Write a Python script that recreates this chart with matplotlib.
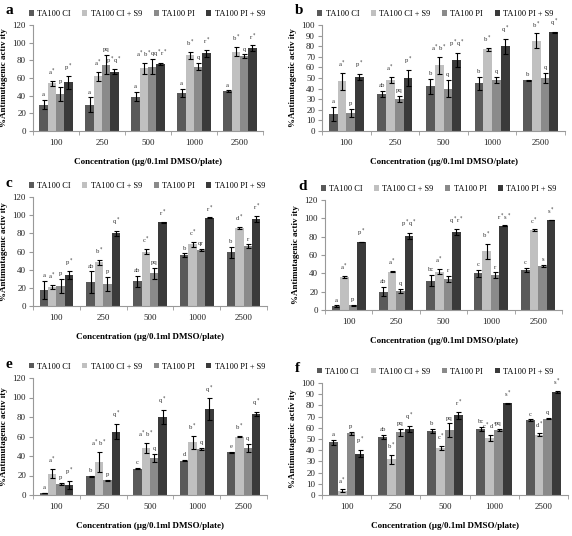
import numpy as np
import matplotlib.pyplot as plt

plt.rcParams['font.family'] = ['Liberation Serif', 'DejaVu Serif']

conc = ['100', '250', '500', '1000', '2500']
series = ['TA100 CI', 'TA100 CI + S9', 'TA100 PI', 'TA100 PI + S9']
colors = ['#5a5a5a', '#c0c0c0', '#8a8a8a', '#3a3a3a']

# panel a
a_vals = [[30, 30, 39, 43, 45], [54, 62, 71, 86, 90], [42, 75, 73, 73, 85], [55, 67, 76, 88, 94]]
a_errs = [[5, 8, 5, 5, 1], [3, 5, 6, 4, 5], [8, 11, 9, 4, 2], [7, 3, 1, 4, 3]]
a_labs = [['a', 'a', 'a', 'a', 'a'], ['a*', 'a*', 'a*b*', 'b*', 'b*'],
          ['p', 'pq', 'q', 'q', 'q'], ['p*', 'p*q*', 'q*r*', 'r*', 'r*']]
# panel b
b_vals = [[16, 35, 42, 45, 48], [47, 48, 62, 77, 85], [17, 30, 40, 48, 50], [51, 50, 67, 80, 93]]
b_errs = [[7, 3, 7, 6, 0.5], [8, 3, 8, 1.5, 7], [4, 3, 8, 3, 5], [3, 8, 7, 7, 0.5]]
b_labs = [['a', 'ab', 'b', 'b', 'b'], ['a*', 'a*', 'a*b*', 'b*', 'b*'],
          ['p', 'pq', 'q', 'q', 'q'], ['p*', 'p*', 'p*q*', 'q*', 'q*']]
# panel c
c_vals = [[18, 26, 27, 56, 59], [21, 48, 60, 68, 86], [22, 24, 36, 62, 66], [34, 80, 92, 97, 96]]
c_errs = [[10, 12, 6, 2, 6], [2, 3, 3, 3, 1], [8, 8, 6, 1, 2], [4, 3, 0.5, 0.5, 3]]
c_labs = [['a', 'ab', 'ab', 'b', 'b'], ['a*', 'b*', 'c*', 'c*', 'd*'],
          ['p', 'p', 'pq', 'qr', 'r'], ['p*', 'q*', 'r*', 'r*', 'r*']]
# panel d
d_vals = [[4, 20, 32, 40, 44], [36, 42, 42, 64, 87], [5, 21, 34, 38, 48], [74, 81, 85, 92, 98]]
d_errs = [[1, 5, 6, 4, 2], [1, 1, 3, 8, 1], [0.5, 2, 3, 3, 1], [0.3, 3, 3, 0.3, 0.3]]
d_labs = [['a', 'ab', 'bc', 'c', 'c'], ['a*', 'a*', 'a*', 'b*', 'c*'],
          ['p', 'q', 'r', 'r', 's'], ['p*', 'p*q*', 'q*r*', 'r*s*', 's*']]
# panel e
e_vals = [[2, 19, 27, 35, 44], [22, 34, 48, 54, 60], [11, 15, 38, 47, 48], [10, 65, 80, 88, 83]]
e_errs = [[0.3, 0.5, 0.5, 0.5, 0.5], [5, 10, 5, 7, 1], [1, 0.5, 4, 1, 4], [4, 8, 7, 11, 2]]
e_labs = [['a', 'b', 'c', 'd', 'e'], ['a*', 'a*b*', 'a*b*', 'b*', 'b*'],
          ['p', 'p', 'q', 'q', 'q'], ['p*', 'q*', 'q*', 'q*', 'q*']]
# panel f
f_vals = [[47, 52, 57, 59, 67], [4, 32, 42, 51, 54], [55, 56, 58, 58, 68], [37, 59, 71, 82, 92]]
f_errs = [[2, 2, 2, 2, 0.5], [1, 4, 2, 3, 1], [1, 3, 6, 1, 0.5], [3, 3, 3, 0.5, 1]]
f_labs = [['a', 'ab', 'b', 'bc', 'c'], ['a*', 'b*', 'c*', 'c*d*', 'd*'],
          ['p', 'pq', 'pq', 'pq', 'q'], ['p*', 'q*', 'r*', 's*', 's*']]

W, H = 572, 536
fig = plt.figure(figsize=(W / 100, H / 100), dpi=100)

# (letter, vals, errs, labs, ymax, ystep, left, right, top, bottom px)
panels = [
    ('a', a_vals, a_errs, a_labs, 120, 20, 33, 263, 25, 131),
    ('b', b_vals, b_errs, b_labs, 100, 10, 322, 565, 25, 131),
    ('c', c_vals, c_errs, c_labs, 120, 20, 33, 267, 197, 306),
    ('d', d_vals, d_errs, d_labs, 120, 20, 325, 562, 200, 310),
    ('e', e_vals, e_errs, e_labs, 120, 20, 33, 267, 378, 495),
    ('f', f_vals, f_errs, f_labs, 100, 10, 322, 568, 383, 495),
]

def star(s):
    return s.replace('*', '$^*$')

x = np.arange(len(conc))
bw = 0.18
for letter, vals, errs, labs, ymax, ystep, l, r, t, b in panels:
    ax = fig.add_axes([l / W, 1 - b / H, (r - l) / W, (b - t) / H])
    for i in range(4):
        xs = x + (i - 1.5) * bw
        ax.bar(xs, vals[i], bw, color=colors[i], label=series[i],
               yerr=errs[i], error_kw=dict(ecolor='black', elinewidth=0.8, capsize=1.8, capthick=0.8))
        for j in range(len(conc)):
            ax.text(xs[j], vals[i][j] + errs[i][j] + ymax * 0.025, star(labs[i][j]),
                    ha='center', va='bottom', fontsize=4.8, color='#333333')
    ax.set_xlim(-0.5, len(conc) - 0.5)
    ax.set_ylim(0, ymax)
    ax.set_yticks(np.arange(0, ymax + 1, ystep))
    ax.set_xticks(x)
    ax.set_xticklabels(conc)
    ax.set_xticks(np.arange(-0.5, len(conc)), minor=True)
    ax.tick_params(axis='x', which='major', length=0, labelsize=6.5, pad=6, labelcolor='#222222')
    ax.tick_params(axis='x', which='minor', length=3, color='#999999')
    ax.tick_params(axis='y', length=3, color='#999999', labelsize=6.5, pad=2, labelcolor='#222222')
    for s in ['top', 'right']:
        ax.spines[s].set_visible(False)
    for s in ['left', 'bottom']:
        ax.spines[s].set_color('#999999')
        ax.spines[s].set_linewidth(0.8)
    ax.set_ylabel('%Antimutagenic activ ity', fontsize=6.5, fontweight='bold', labelpad=3)
    ax.set_xlabel('Concentration (\u00b5g/0.1ml DMSO/plate)', fontsize=6.5, fontweight='bold', labelpad=8)
    ax.legend(loc='lower left', bbox_to_anchor=(-0.04, 1.02), ncol=4, frameon=False,
              fontsize=6, handlelength=0.6, handleheight=0.6, columnspacing=1.4, handletextpad=0.4,
              borderaxespad=0.2)
    fig.text((l - 27) / W, 1 - (t - 14) / H, letter, fontsize=11, fontweight='bold', va='center')

fig.savefig('out.png', dpi=100)
